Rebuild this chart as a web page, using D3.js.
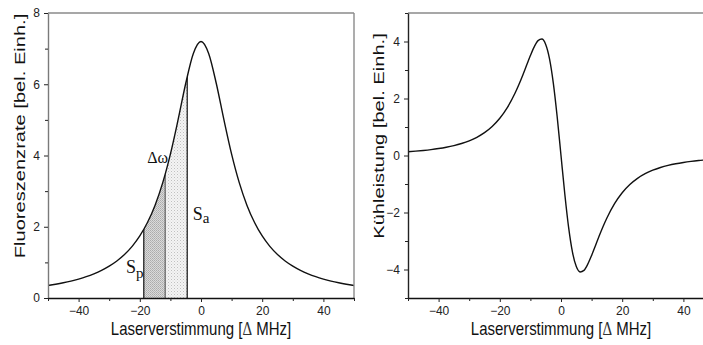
<!DOCTYPE html>
<html>
<head>
<meta charset="utf-8">
<script src="https://cdn.jsdelivr.net/npm/d3@7"></script>
<style>
body { margin: 0; background: #fff; }
text { font-family: "Liberation Sans", Arial, sans-serif; }
.serif { font-family: "Liberation Serif", "Times New Roman", serif; }
</style>
</head>
<body>
<div id="plot"></div>
<script>
const width = 703;
const height = 345;

// ----- DATA ----------------------------------------------//
// left: fluorescence rate vs. laser detuning
const detuning = [-50, -47.5, -45, -42.5, -40, -37.5, -35, -32.5, -30, -27.5, -25, -22.5, -20, -17.5, -15, -12.5, -10, -7.5, -5, -2.5,
    0, 2.5, 5, 7.5, 10, 12.5, 15, 17.5, 20, 22.5, 25, 27.5, 30, 32.5, 35, 37.5, 40, 42.5, 45, 47.5, 50];
const fluorescence = [0.35, 0.386, 0.427, 0.475, 0.532, 0.599, 0.68, 0.777, 0.895, 1.04, 1.221, 1.45, 1.742, 2.119, 2.607, 3.238, 4.038, 4.998, 6.021, 6.864,
    7.2, 6.864, 6.021, 4.998, 4.038, 3.238, 2.607, 2.119, 1.742, 1.45, 1.221, 1.04, 0.895, 0.777, 0.68, 0.599, 0.532, 0.475, 0.427, 0.386, 0.35];

// right: cooling power vs. laser detuning
const detuningCool = [-50, -47.5, -45, -42.5, -40, -37.5, -35, -32.5, -30, -27.5, -25, -22.5, -20, -17.5, -15, -13.75, -12.5, -11.25, -10, -8.75,
    -7.5, -6.25, -5, -3.75, -2.5, -1.25, 0, 1.25, 2.5, 3.75, 5, 6.25, 7.5, 8.75, 10, 11.25, 12.5, 13.75, 15, 17.5,
    20, 22.5, 25, 27.5, 30, 32.5, 35, 37.5, 40, 42.5, 45, 47.5];
const cooling = [0.132, 0.152, 0.177, 0.207, 0.244, 0.29, 0.348, 0.422, 0.516, 0.64, 0.802, 1.018, 1.306, 1.69, 2.192, 2.491, 2.819, 3.164, 3.507, 3.813,
    4.03, 4.086, 3.899, 3.393, 2.533, 1.36, 0, -1.36, -2.533, -3.393, -3.899, -4.086, -4.03, -3.813, -3.507, -3.164, -2.819, -2.491, -2.192, -1.69,
    -1.306, -1.018, -0.802, -0.64, -0.516, -0.422, -0.348, -0.29, -0.244, -0.207, -0.177, -0.152];

// shaded band borders (Sp .. Delta omega .. Sa) in MHz
const bandEdges = [-18.7, -11.7, -4.5];

// ticks
const xTicks = [-40, -20, 0, 20, 40];
const xMinor = [-50, -30, -10, 10, 30, 50];
const yTicksLeft = [0, 2, 4, 6, 8];
const yMinorLeft = [1, 3, 5, 7];
const yTicksRight = [-4, -2, 0, 2, 4];
const yMinorRight = [-5, -3, -1, 1, 3, 5];

const xTitle = "Laserverstimmung [";
const yTitleLeft = "Fluoreszenzrate [bel. Einh.]";
const yTitleRight = "Kühleistung [bel. Einh.]";

// annotations in data coordinates of the left panel
const notes = [
    { main: "S", sub: "p", x: -24.5, y: 0.70, subDy: 5 },
    { main: "S", sub: "a", x: -2.7, y: 2.2, subDy: 3.5 },
    { main: "\u0394\u03c9", sub: "", x: -17.6, y: 3.8, subDy: 0 }
];

// ----- SVG ---------------------------------------------//
var svg = d3.select("#plot").append("svg")
    .attr("width", width)
    .attr("height", height);

const defs = svg.append("defs");

// stipple patterns for the bands
const pDark = defs.append("pattern").attr("id", "dark")
    .attr("width", 2).attr("height", 2).attr("patternUnits", "userSpaceOnUse");
pDark.append("rect").attr("width", 2).attr("height", 2).attr("fill", "#dadada");
pDark.append("rect").attr("width", 1).attr("height", 1).attr("fill", "#ababab");
pDark.append("rect").attr("x", 1).attr("y", 1).attr("width", 1).attr("height", 1).attr("fill", "#b8b8b8");

const pLight = defs.append("pattern").attr("id", "light")
    .attr("width", 3).attr("height", 3).attr("patternUnits", "userSpaceOnUse");
pLight.append("rect").attr("width", 3).attr("height", 3).attr("fill", "#f4f4f4");
pLight.append("rect").attr("width", 1).attr("height", 1).attr("fill", "#c0c0c0");
pLight.append("rect").attr("x", 1.5).attr("y", 1.5).attr("width", 1).attr("height", 1).attr("fill", "#d4d4d4");

function drawAxes(g, xScl, yScl, yMajor, yMinor, leftColor) {
    const [x0, x1] = xScl.range();
    const [yb, yt] = yScl.range();

    // frame top / right (grey)
    g.append("line").attr("x1", x0).attr("x2", x1).attr("y1", yt).attr("y2", yt)
        .attr("stroke", "#8a8a8a").attr("stroke-width", 1.4);
    g.append("line").attr("x1", x1).attr("x2", x1).attr("y1", yt).attr("y2", yb)
        .attr("stroke", "#8a8a8a").attr("stroke-width", 1.4);

    const xAxis = d3.axisBottom(xScl).tickValues(xTicks).tickSize(4).tickPadding(4)
        .tickSizeOuter(0).tickFormat(d3.format("d"));
    const xAxisMinor = d3.axisBottom(xScl).tickValues(xMinor).tickSize(3).tickSizeOuter(0).tickFormat("");
    const yAxis = d3.axisLeft(yScl).tickValues(yMajor).tickSize(4).tickPadding(4)
        .tickSizeOuter(0).tickFormat(d3.format("d"));
    const yAxisMinor = d3.axisLeft(yScl).tickValues(yMinor).tickSize(3).tickSizeOuter(0).tickFormat("");

    const gy = g.append("g").attr("transform", "translate(" + x0 + ",0)").call(yAxis);
    g.append("g").attr("transform", "translate(" + x0 + ",0)").call(yAxisMinor).select(".domain").remove();
    gy.select(".domain").attr("stroke", leftColor).attr("stroke-width", 1.4);

    const gx = g.append("g").attr("transform", "translate(0," + yb + ")").call(xAxis);
    g.append("g").attr("transform", "translate(0," + yb + ")").call(xAxisMinor).select(".domain").remove();
    gx.select(".domain").attr("stroke", "#111").attr("stroke-width", 1.4);

    g.selectAll(".tick line").attr("stroke", "#222");
    g.selectAll(".tick text").attr("fill", "#222").style("font-size", "12px")
        .style("font-family", "'Liberation Sans', Arial, sans-serif");
}

function drawTitles(g, xScl, yScl, yTitle, yTitleX) {
    const [x0, x1] = xScl.range();
    const xt = g.append("text")
        .attr("transform", "translate(" + ((x0 + x1) / 2) + ",335) scale(1,1.2)")
        .attr("text-anchor", "middle")
        .style("font-size", "15px")
        .attr("fill", "#111");
    xt.append("tspan").text(xTitle);
    xt.append("tspan").attr("class", "serif").style("font-size", "15px").attr("fill", "#333").text("\u0394");
    xt.append("tspan").text(" MHz]");

    g.append("text")
        .attr("transform", "translate(" + yTitleX + ",136) rotate(-90) scale(1.34,1)")
        .attr("text-anchor", "middle")
        .style("font-size", "15px")
        .attr("fill", "#111")
        .text(yTitle);
}

// ----- LEFT PANEL --------------------------------------//
const xL = d3.scaleLinear().domain([-50, 50]).range([48, 354]);
const yL = d3.scaleLinear().domain([0, 8]).range([298, 13]);

const left = svg.append("g");
const fluo = detuning.map((d, i) => ({ x: d, y: fluorescence[i] }));

const curve = d3.line().x(d => xL(d.x)).y(d => yL(d.y)).curve(d3.curveMonotoneX);
const under = d3.area().x(d => xL(d.x)).y0(yL(0)).y1(d => yL(d.y)).curve(d3.curveMonotoneX);

defs.append("clipPath").attr("id", "underCurve")
    .append("path").attr("d", under(fluo));

const bands = left.append("g").attr("clip-path", "url(#underCurve)");
bands.append("rect")
    .attr("x", xL(bandEdges[0])).attr("width", xL(bandEdges[1]) - xL(bandEdges[0]))
    .attr("y", yL(8)).attr("height", yL(0) - yL(8))
    .attr("fill", "url(#dark)");
bands.append("rect")
    .attr("x", xL(bandEdges[1])).attr("width", xL(bandEdges[2]) - xL(bandEdges[1]))
    .attr("y", yL(8)).attr("height", yL(0) - yL(8))
    .attr("fill", "url(#light)");
bands.selectAll("line.edge")
    .data(bandEdges)
    .enter()
    .append("line")
    .attr("class", "edge")
    .attr("x1", d => xL(d)).attr("x2", d => xL(d))
    .attr("y1", yL(0)).attr("y2", yL(8))
    .attr("stroke", (d, i) => i === 1 ? "#6a6a6a" : "#222")
    .attr("stroke-width", 1.3);

left.append("path")
    .attr("d", curve(fluo))
    .attr("fill", "none")
    .attr("stroke", "#111")
    .attr("stroke-width", 1.4);

drawAxes(left, xL, yL, yTicksLeft, yMinorLeft, "#7a7a7a");
drawTitles(left, xL, yL, yTitleLeft, 25);

const noteText = left.selectAll("text.note")
    .data(notes)
    .enter()
    .append("text")
    .attr("class", "note serif")
    .attr("x", d => xL(d.x))
    .attr("y", d => yL(d.y))
    .attr("fill", "#111");
noteText.append("tspan")
    .style("font-size", d => d.sub ? "18px" : "16px")
    .text(d => d.main);
noteText.append("tspan")
    .style("font-size", "15px")
    .attr("dy", d => d.subDy)
    .text(d => d.sub);

// ----- RIGHT PANEL -------------------------------------//
const xR = d3.scaleLinear().domain([-50, 50]).range([408, 714]);
const yR = d3.scaleLinear().domain([-5, 5]).range([298, 13]);

const right = svg.append("g");
const cool = detuningCool.map((d, i) => ({ x: d, y: cooling[i] }));

defs.append("clipPath").attr("id", "rightClip")
    .append("rect").attr("x", 408).attr("y", 13).attr("width", 306).attr("height", 285);

right.append("path")
    .attr("clip-path", "url(#rightClip)")
    .attr("d", d3.line().x(d => xR(d.x)).y(d => yR(d.y)).curve(d3.curveMonotoneX)(cool))
    .attr("fill", "none")
    .attr("stroke", "#111")
    .attr("stroke-width", 1.4);

drawAxes(right, xR, yR, yTicksRight, yMinorRight, "#222");
drawTitles(right, xR, yR, yTitleRight, 384);
</script>
</body>
</html>
